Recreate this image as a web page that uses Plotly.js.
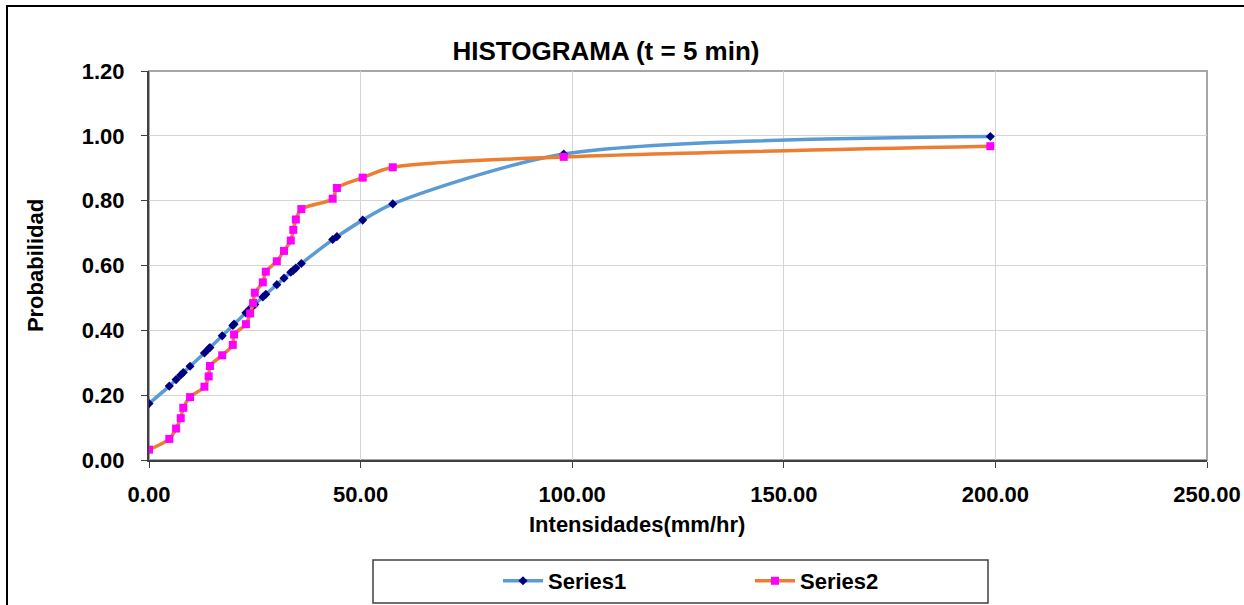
<!DOCTYPE html>
<html>
<head>
<meta charset="utf-8">
<script src="https://cdn.plot.ly/plotly-3.0.1.min.js"></script>
<style>html,body{margin:0;padding:0;background:#fff;overflow:hidden;}#chart{width:1244px;height:605px;}</style>
</head>
<body>
<div id="chart"></div>
<script>
// Intensidades (mm/hr) - shared x values
const intensidades = [0.0, 4.8, 6.4, 7.5, 8.1, 9.7, 13.1, 14.1, 14.4, 17.3, 19.8, 20.1, 22.9, 23.9, 24.6, 25.0, 26.9, 27.6, 30.2, 31.9, 33.5, 34.1, 34.7, 36.0, 43.4, 44.4, 50.5, 57.6, 98.0, 198.8];
// Series1 (fitted probability)
const series1 = [0.174, 0.228, 0.248, 0.262, 0.270, 0.289, 0.330, 0.343, 0.347, 0.383, 0.415, 0.419, 0.454, 0.467, 0.475, 0.480, 0.503, 0.511, 0.541, 0.561, 0.579, 0.585, 0.592, 0.606, 0.680, 0.689, 0.740, 0.790, 0.944, 0.998];
// Series2 (empirical probability)
const series2 = [0.032, 0.065, 0.097, 0.129, 0.161, 0.194, 0.226, 0.258, 0.290, 0.323, 0.355, 0.387, 0.419, 0.452, 0.484, 0.516, 0.548, 0.581, 0.613, 0.645, 0.677, 0.710, 0.742, 0.774, 0.806, 0.839, 0.871, 0.903, 0.935, 0.968];
const seriesNames = ["Series1", "Series2"];
const xTicks = [0, 50, 100, 150, 200, 250];
const yTicks = [0, 0.2, 0.4, 0.6, 0.8, 1.0, 1.2];

const FONT = "'Liberation Sans', Arial, sans-serif";
const W = 1244, H = 605;
const L = 149, R = 1207, T = 71, B = 460;
const px = v => (v - L) / (R - L);   // pixel x -> paper x
const py = v => (B - v) / (B - T);   // pixel y -> paper y

const traces = [
  {
    x: intensidades, y: series1, name: seriesNames[0], type: 'scatter', mode: 'lines+markers',
    line: {color: '#5B9BD5', width: 3.5, shape: 'spline', smoothing: 0.8},
    marker: {symbol: 'diamond', color: '#000080', size: 7}
  },
  {
    x: intensidades, y: series2, name: seriesNames[1], type: 'scatter', mode: 'lines+markers',
    line: {color: '#ED7D31', width: 3.5, shape: 'spline', smoothing: 0.8},
    marker: {symbol: 'square', color: '#FF00FF', size: 8}
  }
];

const layout = {
  width: W, height: H,
  margin: {l: L, r: W - R, t: T, b: H - B, autoexpand: false},
  paper_bgcolor: '#ffffff', plot_bgcolor: '#ffffff',
  font: {family: FONT, color: '#000'},
  title: {
    text: 'HISTOGRAMA (t = 5 min)',
    font: {family: FONT, size: 26, weight: 'bold', color: '#000'},
    x: 606 / W, xref: 'container', xanchor: 'center',
    y: 1 - 51 / H, yref: 'container', yanchor: 'middle'
  },
  xaxis: {
    range: [0, 250], tickvals: xTicks, tickformat: '.2f',
    showgrid: true, gridcolor: '#D4D4D4', gridwidth: 1,
    showline: true, linecolor: '#404040', linewidth: 2,
    ticks: 'outside', ticklen: 6, tickcolor: '#404040', tickwidth: 1,
    tickfont: {family: FONT, size: 22, weight: 'bold', color: '#000'},
    ticklabelstandoff: 8,
    zeroline: false, fixedrange: true, automargin: false
  },
  yaxis: {
    range: [0, 1.2], tickvals: yTicks, tickformat: '.2f',
    showgrid: true, gridcolor: '#D4D4D4', gridwidth: 1,
    showline: true, linecolor: '#404040', linewidth: 2,
    ticks: 'outside', ticklen: 6, tickcolor: '#404040', tickwidth: 1,
    tickfont: {family: FONT, size: 22, weight: 'bold', color: '#000'},
    ticklabelstandoff: 12,
    title: {text: 'Probabilidad', font: {family: FONT, size: 22, weight: 'bold', color: '#000'}, standoff: 32},
    zeroline: false, fixedrange: true, automargin: false
  },
  annotations: [
    {
      text: 'Intensidades(mm/hr)', xref: 'paper', yref: 'paper',
      x: px(637), y: py(524), xanchor: 'center', yanchor: 'middle',
      showarrow: false, font: {family: FONT, size: 22, weight: 'bold', color: '#000'}
    }
  ],
  showlegend: true,
  legend: {
    orientation: 'h', xref: 'container', yref: 'container',
    x: 498 / W, xanchor: 'left',
    y: 1 - 581 / H, yanchor: 'middle',
    font: {family: FONT, size: 22, weight: 'bold', color: '#000'},
    bgcolor: 'rgba(0,0,0,0)', borderwidth: 0,
    entrywidth: 197, itemwidth: 40
  },
  shapes: [
    // plot area border (gray)
    {type: 'rect', xref: 'paper', yref: 'paper', x0: 0, x1: 1, y0: 0, y1: 1,
     line: {color: '#A6A6A6', width: 2}, layer: 'below'},
    // legend box
    {type: 'rect', xref: 'paper', yref: 'paper',
     x0: px(373), x1: px(988), y0: py(603), y1: py(560),
     line: {color: '#404040', width: 1.5}, fillcolor: 'rgba(0,0,0,0)'},
    // outer chart frame
    {type: 'rect', xref: 'paper', yref: 'paper',
     x0: px(7), x1: px(1250), y0: py(620), y1: py(6),
     line: {color: '#000', width: 2}, fillcolor: 'rgba(0,0,0,0)'}
  ]
};

Plotly.newPlot('chart', traces, layout, {displayModeBar: false, staticPlot: true});
</script>
</body>
</html>
